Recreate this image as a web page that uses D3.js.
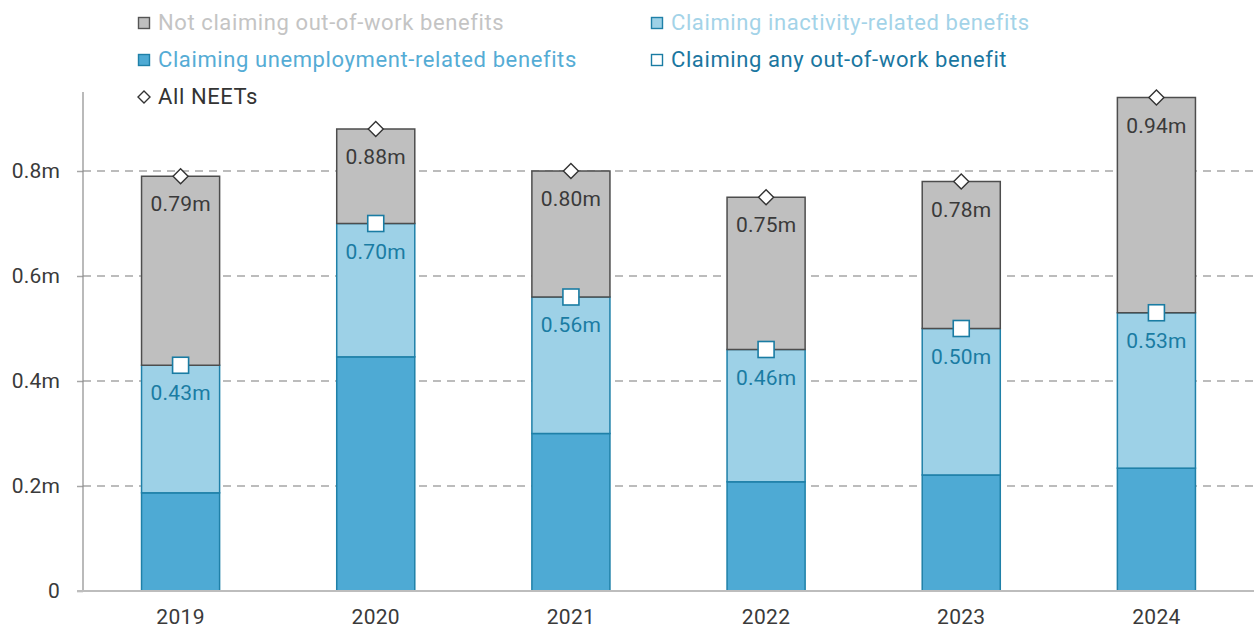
<!DOCTYPE html>
<html>
<head>
<meta charset="utf-8">
<script src="https://cdn.jsdelivr.net/npm/d3@7"></script>
<style>
  html, body { margin: 0; padding: 0; background: #fff; }
  svg { display: block; font-family: Roboto, "Noto Sans", sans-serif; font-weight: 400; }
</style>
</head>
<body>
<svg id="chart" width="1254" height="628"></svg>
<script>
// Young people not in education, employment or training (millions)
const years = ["2019", "2020", "2021", "2022", "2023", "2024"];
const unemploymentRelated = [0.187, 0.446, 0.30, 0.208, 0.221, 0.234];
const anyOutOfWork = [0.43, 0.70, 0.56, 0.46, 0.50, 0.53];
const allNeets = [0.79, 0.88, 0.80, 0.75, 0.78, 0.94];
const yTicks = [0, 0.2, 0.4, 0.6, 0.8];
const yTickLabels = ["0", "0.2m", "0.4m", "0.6m", "0.8m"];

const legendItems = [
  { label: "Not claiming out-of-work benefits", kind: "rect", fill: "#bfbfbf", stroke: "#555", text: "#c4c4c4", col: 0, row: 0 },
  { label: "Claiming inactivity-related benefits", kind: "rect", fill: "#9dd1e7", stroke: "#1f80a8", text: "#a3d3e8", col: 1, row: 0 },
  { label: "Claiming unemployment-related benefits", kind: "rect", fill: "#4eaad4", stroke: "#1f80a8", text: "#55acd5", col: 0, row: 1 },
  { label: "Claiming any out-of-work benefit", kind: "rect", fill: "#fff", stroke: "#1a7ca3", text: "#1a76a0", col: 1, row: 1 },
  { label: "All NEETs", kind: "diamond", fill: "#fff", stroke: "#333", text: "#333", col: 0, row: 2 }
];

const colors = {
  grey: "#bfbfbf", greyStroke: "#4d4d4d",
  light: "#9dd1e7", mid: "#4eaad4", blueStroke: "#1f80a8",
  marker: "#1a7ca3", text: "#3a3a3a"
};

const svg = d3.select("#chart");
const margin = { left: 83, right: 0, top: 92, bottom: 37 };
const W = 1254, H = 628;

const x = d3.scaleBand().domain(years).range([margin.left, W - margin.right]).paddingInner(0.6).paddingOuter(0.3);
const y = d3.scaleLinear().domain([0, 0.8]).range([H - margin.bottom, 171]);

// Gridlines
svg.append("g").selectAll("line")
  .data(yTicks.filter(d => d > 0))
  .join("line")
  .attr("x1", margin.left).attr("x2", W)
  .attr("y1", d => y(d)).attr("y2", d => y(d))
  .attr("stroke", "#a6a6a6").attr("stroke-width", 1.6)
  .attr("stroke-dasharray", "8,6");

// Y axis
const yAxis = d3.axisLeft(y).tickValues(yTicks).tickSize(6).tickPadding(17)
  .tickFormat((d, i) => yTickLabels[i]);
const gy = svg.append("g").attr("transform", `translate(${margin.left},0)`).call(yAxis);
gy.select(".domain").remove();
gy.selectAll(".tick line").attr("stroke", "#a6a6a6").attr("stroke-width", 1.5);
gy.selectAll(".tick text").attr("fill", colors.text).attr("font-size", 21)
  .attr("font-family", "Roboto").attr("letter-spacing", 0.2);
svg.append("line")
  .attr("x1", margin.left).attr("x2", margin.left)
  .attr("y1", margin.top).attr("y2", y(0))
  .attr("stroke", "#8c8c8c").attr("stroke-width", 1.2);

// Stacked bars
const bw = x.bandwidth();
const g = svg.append("g");
years.forEach((yr, i) => {
  const x0 = x(yr);
  const segs = [
    { lo: 0, hi: unemploymentRelated[i], fill: colors.mid, stroke: colors.blueStroke },
    { lo: unemploymentRelated[i], hi: anyOutOfWork[i], fill: colors.light, stroke: colors.blueStroke },
    { lo: anyOutOfWork[i], hi: allNeets[i], fill: colors.grey, stroke: colors.greyStroke }
  ];
  segs.forEach(s => {
    g.append("rect")
      .attr("x", x0).attr("width", bw)
      .attr("y", y(s.hi)).attr("height", y(s.lo) - y(s.hi))
      .attr("fill", s.fill).attr("stroke", s.stroke).attr("stroke-width", 1.5);
  });
});

// X axis baseline
svg.append("line")
  .attr("x1", 77).attr("x2", W)
  .attr("y1", y(0)).attr("y2", y(0))
  .attr("stroke", "#bdbdbd").attr("stroke-width", 2);

svg.append("g").selectAll("text")
  .data(years).join("text")
  .attr("x", d => x(d) + bw / 2).attr("y", y(0) + 33)
  .attr("text-anchor", "middle").attr("font-size", 21).attr("letter-spacing", 0.3)
  .attr("fill", colors.text).text(d => d);

// Markers and value labels
const fmt = v => v.toFixed(2) + "m";
const markers = svg.append("g");
years.forEach((yr, i) => {
  const cx = x(yr) + bw / 2;
  // any out-of-work benefit: square
  const sy = y(anyOutOfWork[i]);
  markers.append("rect")
    .attr("x", cx - 8).attr("y", sy - 8).attr("width", 16).attr("height", 16)
    .attr("fill", "#fff").attr("stroke", colors.marker).attr("stroke-width", 1.6);
  markers.append("text")
    .attr("x", cx).attr("y", sy + 35)
    .attr("text-anchor", "middle").attr("font-size", 21).attr("letter-spacing", 0.2)
    .attr("fill", colors.marker).text(fmt(anyOutOfWork[i]));
  // all NEETs: diamond
  const dy = y(allNeets[i]);
  markers.append("path")
    .attr("d", `M${cx},${dy - 7.5}L${cx + 7.5},${dy}L${cx},${dy + 7.5}L${cx - 7.5},${dy}Z`)
    .attr("fill", "#fff").attr("stroke", "#333").attr("stroke-width", 1.4);
  markers.append("text")
    .attr("x", cx).attr("y", dy + 35)
    .attr("text-anchor", "middle").attr("font-size", 21).attr("letter-spacing", 0.2)
    .attr("fill", colors.text).text(fmt(allNeets[i]));
});

// Legend
const legCols = [138, 651];
const legRows = [22, 59, 96];
const leg = svg.append("g");
legendItems.forEach(d => {
  const lx = legCols[d.col], ly = legRows[d.row];
  if (d.kind === "rect") {
    leg.append("rect")
      .attr("x", lx + 0.5).attr("y", ly - 4.5).attr("width", 11).attr("height", 11)
      .attr("fill", d.fill).attr("stroke", d.stroke).attr("stroke-width", 1.4);
  } else {
    const cx = lx + 6, cy = ly + 1;
    leg.append("path")
      .attr("d", `M${cx},${cy - 6}L${cx + 6},${cy}L${cx},${cy + 6}L${cx - 6},${cy}Z`)
      .attr("fill", d.fill).attr("stroke", d.stroke).attr("stroke-width", 1.4);
  }
  leg.append("text")
    .attr("x", lx + 20).attr("y", ly + 8)
    .attr("font-size", 22).attr("letter-spacing", 0.6).attr("fill", d.text).text(d.label);
});
</script>
</body>
</html>
